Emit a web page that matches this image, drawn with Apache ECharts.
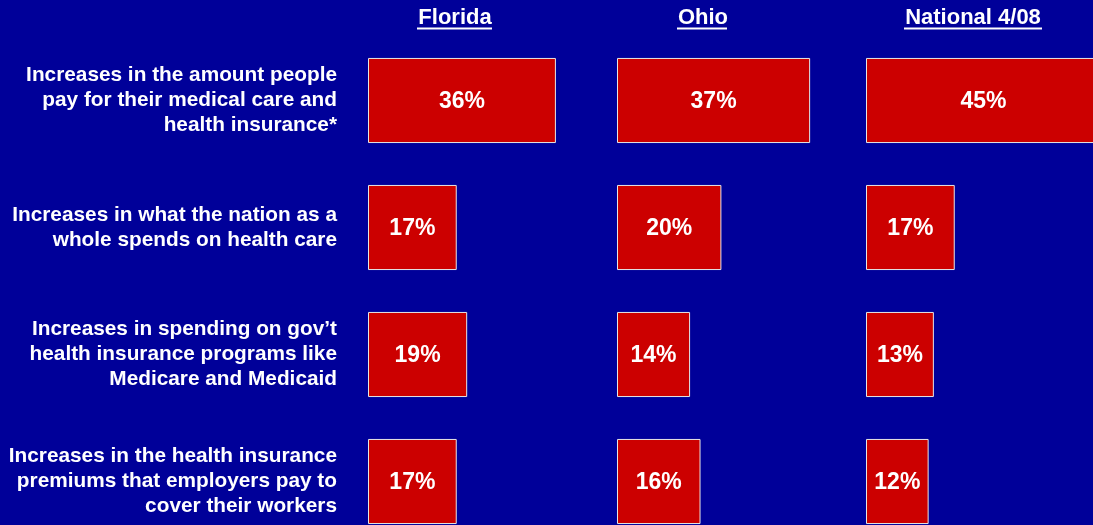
<!DOCTYPE html>
<html>
<head>
<meta charset="utf-8">
<script src="https://cdn.jsdelivr.net/npm/echarts@6/dist/echarts.min.js"></script>
<style>
html,body{margin:0;padding:0;background:#000099;}
#main{width:1093px;height:525px;}
</style>
</head>
<body>
<div id="main"></div>
<script>
var categories = [
  "Increases in the amount people\npay for their medical care and\nhealth insurance*",
  "Increases in what the nation as a\nwhole spends on health care",
  "Increases in spending on gov\u2019t\nhealth insurance programs like\nMedicare and Medicaid",
  "Increases in the health insurance\npremiums that employers pay to\ncover their workers"
];
var panels = ["Florida", "Ohio", "National 4/08"];
var florida = [36, 17, 19, 17];
var ohio = [37, 20, 14, 16];
var national = [45, 17, 13, 12];
var seriesData = [florida, ohio, national];

var font = "Liberation Sans";
var gridLefts = [368, 617, 866];
var headerCenters = [455, 703, 973];
var underlines = [[417, 492], [677, 727], [904, 1042]];

var grids = [], xAxes = [], yAxes = [], series = [], graphics = [];
for (var i = 0; i < 3; i++) {
  grids.push({left: gridLefts[i], top: 37, width: 261, height: 508,
              containLabel: false, outerBoundsMode: 'none'});
  xAxes.push({gridIndex: i, type: 'value', min: 0, max: 50, show: false});
  yAxes.push({
    gridIndex: i, type: 'category', data: categories, inverse: true,
    axisLine: {show: false}, axisTick: {show: false}, splitLine: {show: false},
    axisLabel: {
      show: i === 0, color: '#ffffff', fontWeight: 'bold', fontSize: 20.8,
      lineHeight: 25, align: 'right', margin: 31, fontFamily: font
    }
  });
  series.push({
    type: 'bar', xAxisIndex: i, yAxisIndex: i, data: seriesData[i],
    barCategoryGap: '33%',
    itemStyle: {color: '#CC0000', borderColor: '#E6E6E6', borderWidth: 1},
    label: {
      show: true, position: 'inside', color: '#ffffff', fontWeight: 'bold',
      fontSize: 23, fontFamily: font, formatter: '{c}%', offset: [0, 1]
    },
    silent: true, animation: false
  });
  graphics.push({
    type: 'text', x: headerCenters[i], y: 18,
    style: {text: panels[i], fill: '#ffffff', fontWeight: 'bold', fontSize: 22,
            fontFamily: font, textAlign: 'center', textVerticalAlign: 'middle'}
  });
  graphics.push({
    type: 'line', shape: {x1: underlines[i][0], y1: 28.5, x2: underlines[i][1], y2: 28.5},
    style: {stroke: '#ffffff', lineWidth: 2}
  });
}

var chart = echarts.init(document.getElementById('main'));
chart.setOption({
  backgroundColor: '#000099',
  animation: false,
  grid: grids, xAxis: xAxes, yAxis: yAxes, series: series,
  graphic: graphics
});
</script>
</body>
</html>
